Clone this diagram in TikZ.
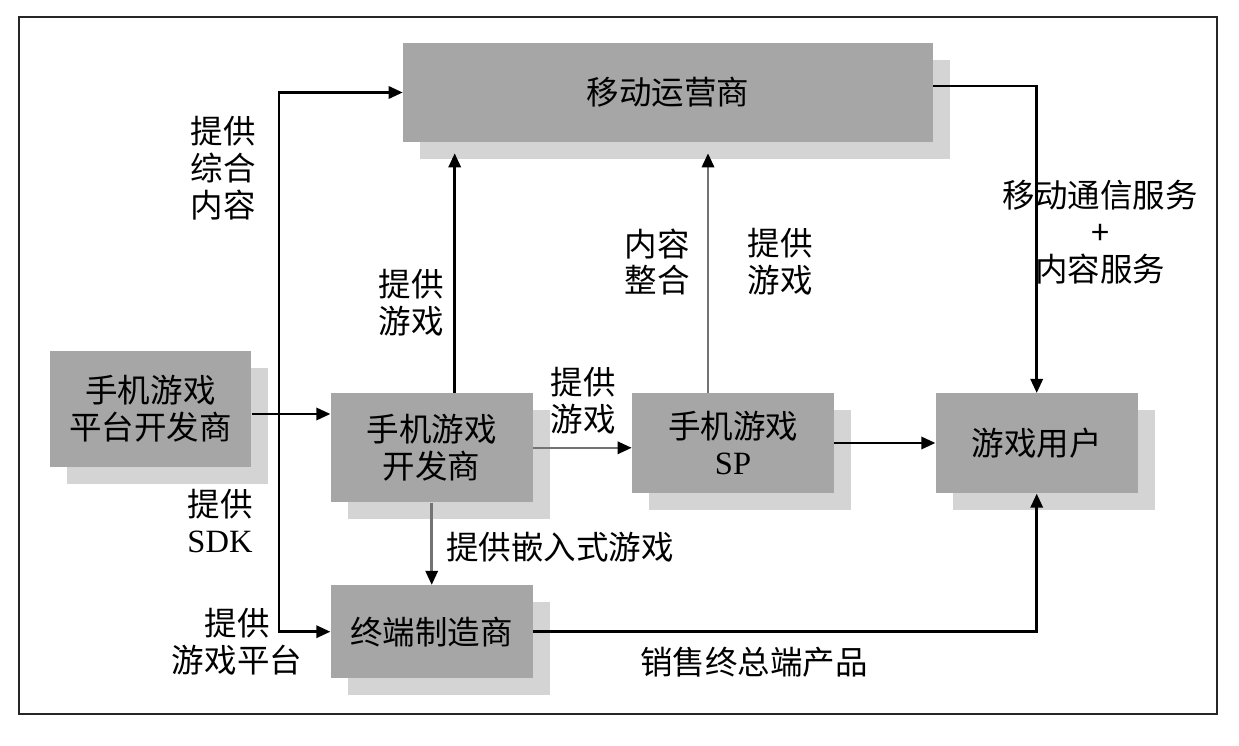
\documentclass[tikz,border=0pt]{standalone}
\usepackage{fontspec}
\setmainfont{Liberation Serif}
\newfontfamily\cjk{Noto Sans CJK SC}
\usetikzlibrary{arrows.meta,shadows}

\tikzset{
  >={Triangle[length=8pt,width=7pt]},
  box/.style={fill=black!35, inner sep=0pt, align=center, minimum width=4.04cm,
    general shadow={fill=black!17, shadow xshift=0.34cm, shadow yshift=-0.34cm}},
  lbl/.style={align=center, inner sep=0pt},
  flow/.style={line width=1.4pt, ->},
  flowgray/.style={flow, draw=black!55, -{Triangle[length=8pt,width=7pt,color=black]}},
}

\begin{document}
\begin{tikzpicture}[x=0.02cm, y=-0.02cm, font=\cjk\fontsize{18.5}{21}\selectfont]
  \useasboundingbox (0,0) rectangle (1239,746);

  % -- Outer frame --
  \draw[line width=1.6pt, black!85] (19,17) rectangle (1217,714);

  % -- Boxes --
  \node[box, minimum width=10.6cm, minimum height=1.98cm] (mno) at (668,92.5) {移动运营商};
  \node[box, minimum height=2.34cm] (plat) at (150.5,409) {手机游戏\\平台开发商};
  \node[box, minimum height=2.18cm] (dev) at (431.7,447.8) {手机游戏\\开发商};
  \node[box, minimum height=2cm] (sp) at (733,443) {手机游戏\\{\rmfamily SP}};
  \node[box, minimum height=2cm] (user) at (1036.7,443.3) {游戏用户};
  \node[box, minimum height=1.86cm] (term) at (431.7,631.7) {终端制造商};

  % -- Helper points --
  \coordinate (bus) at (279,400);
  \coordinate (mnoFoot) at ([yshift=-0.22cm]mno.south);
  \coordinate (platOut) at ([yshift=-0.1cm]plat.east);
  \coordinate (devUp) at ([xshift=0.46cm]dev.north);
  \coordinate (spUp) at ([xshift=-0.5cm]sp.north);
  \coordinate (mnoOut) at ([yshift=0.13cm]mno.east);

  % -- Connectors --
  \draw[flow, <->] (mno.west) -| (bus) |- (term.west);
  \draw[flow] (platOut) -- (platOut -| dev.west);
  \draw[flow] (devUp) -- (devUp |- mnoFoot);
  \draw[flowgray] (spUp) -- (spUp |- mnoFoot);
  \draw[flow] (mnoOut) -| (user.north);
  \draw[flowgray] (dev.east) -- (dev.east -| sp.west);
  \draw[flow] (sp.east) -- (sp.east -| user.west);
  \draw[flowgray] (dev.south) -- (term.north);
  \draw[flow] (term.east) -| (user.south);

  % -- Labels --
  \node[lbl] (lblMix) at (223,168) {提供\\综合\\内容};
  \node[lbl] (lblDevUp) at (411,303) {提供\\游戏};
  \node[lbl] (lblMerge) at (657,262) {内容\\整合};
  \node[lbl] (lblSpUp) at (780,262) {提供\\游戏};
  \node[lbl] (lblSvc) at (1100,232) {移动通信服务\\+\\内容服务};
  \node[lbl] (lblDevSp) at (583,401) {提供\\游戏};
  \node[lbl] (lblSdk) at (220,521) {提供\\{\rmfamily SDK}};
  \node[lbl] (lblEmbed) at (560,547) {提供嵌入式游戏};
  \node[lbl] (lblPlat) at (237,642) {提供\\游戏平台};
  \node[lbl] (lblSale) at (754,662) {销售终总端产品};

\end{tikzpicture}
\end{document}
